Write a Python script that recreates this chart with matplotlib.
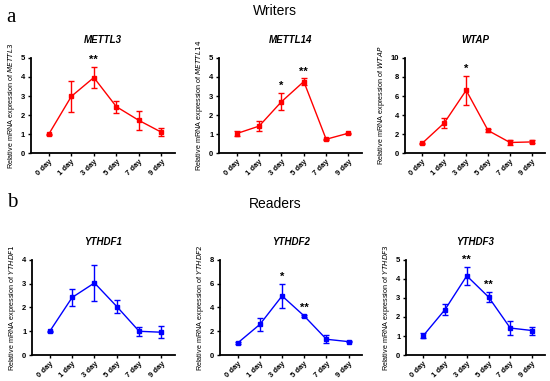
import matplotlib
matplotlib.use("Agg")
import matplotlib.pyplot as plt

plt.rcParams['font.family'] = ['Liberation Sans', 'DejaVu Sans']

days = ["0 day", "1 day", "3 day", "5 day", "7 day", "9 day"]

# writers
mettl3 = [1.0, 2.98, 3.97, 2.44, 1.72, 1.1]
mettl3_err = [0.03, 0.82, 0.57, 0.32, 0.5, 0.2]
mettl14 = [1.03, 1.42, 2.7, 3.76, 0.73, 1.05]
mettl14_err = [0.15, 0.28, 0.45, 0.16, 0.03, 0.03]
wtap = [1.05, 3.17, 6.6, 2.38, 1.12, 1.18]
wtap_err = [0.05, 0.56, 1.55, 0.2, 0.3, 0.15]

# readers
ythdf1 = [1.0, 2.42, 3.03, 2.04, 1.0, 0.96]
ythdf1_err = [0.03, 0.34, 0.76, 0.26, 0.18, 0.25]
ythdf2 = [1.02, 2.58, 4.97, 3.28, 1.33, 1.13]
ythdf2_err = [0.12, 0.57, 1.0, 0.12, 0.32, 0.06]
ythdf3 = [1.02, 2.39, 4.16, 3.05, 1.42, 1.29]
ythdf3_err = [0.12, 0.31, 0.47, 0.25, 0.37, 0.21]

panels = [
    ("METTL3", mettl3, mettl3_err, 5, 1, {2: "**"}, "red", [0.056, 0.598, 0.262, 0.25]),
    ("METTL14", mettl14, mettl14_err, 5, 1, {2: "*", 3: "**"}, "red", [0.398, 0.598, 0.26, 0.25]),
    ("WTAP", wtap, wtap_err, 10, 2, {2: "*"}, "red", [0.736, 0.598, 0.255, 0.25]),
    ("YTHDF1", ythdf1, ythdf1_err, 4, 1, {}, "blue", [0.058, 0.068, 0.26, 0.25]),
    ("YTHDF2", ythdf2, ythdf2_err, 8, 2, {2: "*", 3: "**"}, "blue", [0.4, 0.068, 0.258, 0.25]),
    ("YTHDF3", ythdf3, ythdf3_err, 5, 1, {2: "**", 3: "**"}, "blue", [0.738, 0.068, 0.253, 0.25]),
]

fig = plt.figure(figsize=(5.5, 3.81), dpi=100)

for name, vals, errs, ymax, step, stars, col, pos in panels:
    ax = fig.add_axes(pos)
    x = list(range(len(days)))
    ax.errorbar(x, vals, yerr=errs, color=col, marker="s", markersize=3,
                linewidth=1, elinewidth=1, capsize=2, capthick=1, ecolor=col)
    for i, s in stars.items():
        ax.text(i, vals[i] + errs[i] + ymax * 0.02, s, ha="center", va="bottom",
                fontsize=8, fontweight="bold")
    ax.set_xlim(-0.8, 5.6)
    ax.set_ylim(0, ymax)
    ax.set_yticks(range(0, ymax + 1, step))
    ax.set_xticks(x)
    ax.set_xticklabels(days, rotation=45, ha="right", rotation_mode="anchor")
    ax.spines["top"].set_visible(False)
    ax.spines["right"].set_visible(False)
    ax.spines["left"].set_linewidth(1.3)
    ax.spines["bottom"].set_linewidth(1.3)
    ax.tick_params(labelsize=5.5, width=1, length=2.5, pad=1.5)
    for lab in ax.get_xticklabels() + ax.get_yticklabels():
        lab.set_fontweight("bold")
    ax.set_title(name, fontsize=7, fontweight="bold", style="italic", pad=11)
    ax.set_ylabel("Relative mRNA expression of $\\it{" + name + "}$", fontsize=5.2, labelpad=3)

fig.text(0.012, 0.955, "a", fontsize=15, family="Liberation Serif", va="center")
fig.text(0.5, 0.97, "Writers", fontsize=10, ha="center", va="center")
fig.text(0.012, 0.468, "b", fontsize=15, family="Liberation Serif", va="center")
fig.text(0.5, 0.465, "Readers", fontsize=10, ha="center", va="center")

fig.savefig("out.png", dpi=100)
